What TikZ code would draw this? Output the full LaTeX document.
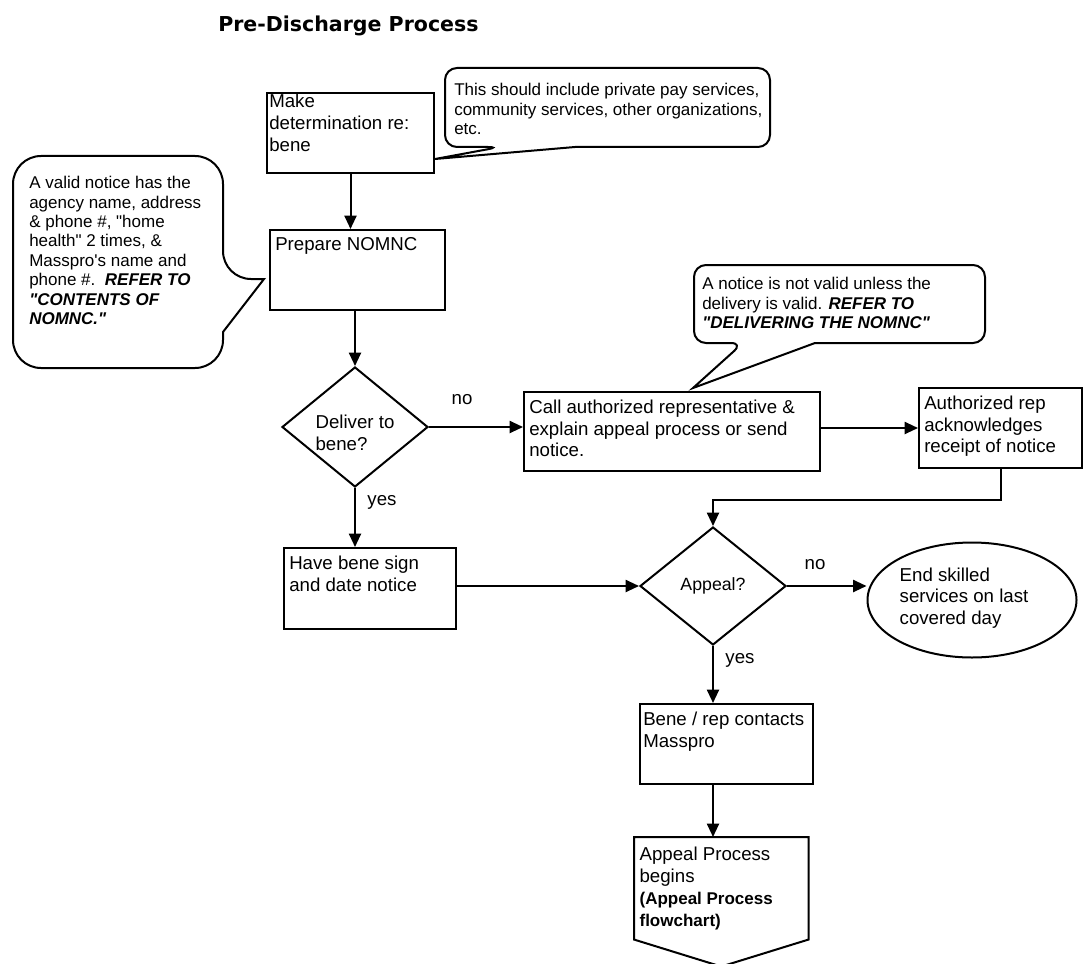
\documentclass[tikz,border=0pt]{standalone}
\usepackage{fontspec}
\setmainfont{Liberation Sans}[Ligatures=TeXOff]
\newfontfamily\titlefont{DejaVu Sans}
\usetikzlibrary{shapes.geometric,arrows.meta}

\newcommand{\boxfont}{\fontsize{14pt}{16.3pt}\selectfont}
\newcommand{\notefont}{\fontsize{12.75pt}{14.6pt}\selectfont}

\tikzset{
  flowbox/.style 2 args={draw, line width=1.5pt, anchor=north west, inner sep=0pt,
    minimum width=#1*0.75pt, minimum height=#2*0.75pt},
  boxtext/.style={anchor=north west, align=left, inner xsep=4.5pt, inner ysep=6.5pt, font=\boxfont},
  decision/.style 2 args={draw, diamond, line width=1.5pt, inner sep=0pt,
    minimum width=#1*0.75pt, minimum height=#2*0.75pt},
  shapetext/.style={align=left, inner sep=0pt, font=\boxfont},
  note/.style={line width=1.5pt},
  notetext/.style={anchor=north west, inner sep=0pt, align=left, font=\notefont},
  branch/.style={font=\boxfont, inner sep=0pt},
  flowarrow/.style={line width=1.5pt, -{Triangle[length=10pt, width=9pt]}}
}

\begin{document}
\begin{tikzpicture}[x=0.75pt, y=-0.75pt]
\useasboundingbox (0,0) rectangle (1084,963);
\node[anchor=base west, inner sep=0pt, font={\titlefont\bfseries\fontsize{15.4pt}{18pt}\selectfont}] (title) at (218,32) {Pre-Discharge Process};

% process boxes
\node[flowbox={167}{80}] (make) at (266,92) {};
\node[boxtext, inner xsep=2.25pt, inner ysep=1.5pt] (make-t) at (make.north west) {Make\\determination re:\\bene};
\node[flowbox={175}{80}] (prep) at (269,229) {};
\node[boxtext] (prep-t) at (prep.north west) {Prepare NOMNC};
\node[flowbox={172}{81}] (have) at (283,547) {};
\node[boxtext] (have-t) at (have.north west) {Have bene sign\\and date notice};
\node[flowbox={296}{79}] (call) at (523,391) {};
\node[boxtext] (call-t) at (call.north west) {Call authorized representative \&\\explain appeal process or send\\notice.};
\node[flowbox={163}{80}] (auth) at (918,387) {};
\node[boxtext] (auth-t) at (auth.north west) {Authorized rep\\acknowledges\\receipt of notice};
\node[flowbox={173}{80}] (bene) at (639,703) {};
\node[boxtext, inner xsep=3pt] (bene-t) at (bene.north west) {Bene / rep contacts\\Masspro};
\node[anchor=north west, inner sep=0pt, minimum width=174*0.75pt, minimum height=102*0.75pt] (off) at (634,837) {};
\draw[line width=1.5pt] (off.north west) -- (off.north east) -- (off.south east) -- ([yshift=-20.25pt]off.south) -- (off.south west) -- cycle;
\node[boxtext, inner xsep=4pt, inner ysep=7.5pt] (off-t) at (off.north west) {Appeal Process\\begins\\{\notefont\bfseries (Appeal Process}\\{\notefont\bfseries flowchart)}};

% decisions
\node[decision={146}{120}] (deliver) at (355,427) {};
\node[shapetext] (deliver-t) at (355,433) {Deliver to\\bene?};
\node[decision={146}{118}] (appeal) at (713,586) {};
\node[shapetext, font=\fontsize{13.3pt}{16pt}\selectfont] (appeal-t) at (appeal) {Appeal?};
\node[draw, ellipse, line width=1.5pt, minimum width=209*0.75pt, minimum height=115*0.75pt, inner sep=0pt] (end) at (972,600) {};
\node[shapetext] (end-t) at (964,598) {End skilled\\services on last\\covered day};

% callouts
\draw[note] (575,147) [rounded corners=9pt] -- (770,147) -- (770,68) -- (445,68) -- (445,147) -- (500,147) [sharp corners] -- (435,159) -- cycle;
\node[notetext] (svc-t) at (454,83) {This should include private pay services,\\community services, other organizations,\\etc.};
\draw[note] (223,332) [rounded corners=21pt] -- (223,368) -- (13,368) -- (13,156) -- (223,156) -- (223,279) [sharp corners] -- (264,279) -- cycle;
\node[notetext] (valid-t) at (29,176) {A valid notice has the\\agency name, address\\\& phone \#, "home\\health" 2 times, \&\\Masspro's name and\\phone \#.\ \ {\bfseries\itshape REFER TO}\\{\bfseries\itshape "CONTENTS OF}\\{\bfseries\itshape NOMNC."}};
\draw[note] (815,343) [rounded corners=9pt] -- (985,343) -- (985,265) -- (694,265) -- (694,343) -- (743,343) [sharp corners] -- (693,388) -- cycle;
\node[notetext] (deliv-t) at (702,277) {A notice is not valid unless the\\delivery is valid. {\bfseries\itshape REFER TO}\\{\bfseries\itshape "DELIVERING THE NOMNC"}};

% branch labels
\node[branch] (no-1) at (462,400) {no};
\node[branch] (yes-1) at (382,502) {yes};
\node[branch] (no-2) at (815,565) {no};
\node[branch] (yes-2) at (740,660) {yes};

% connectors
\draw[flowarrow] (make.south) -- (make.south |- prep.north);
\draw[flowarrow] (prep.south -| deliver) -- (deliver.north);
\draw[flowarrow] (deliver.east) -- (deliver.east -| call.west);
\draw[flowarrow] (deliver.south) -- (deliver.south |- have.north);
\draw[flowarrow] (auth.west -| call.east) -- (auth.west);
\draw[flowarrow] (auth.south) -- ++(0,31) -| (appeal.north);
\draw[flowarrow] (appeal.west -| have.east) -- (appeal.west);
\draw[flowarrow] (appeal.east) -- (appeal.east -| end.west);
\draw[flowarrow] (appeal.south) -- (appeal.south |- bene.north);
\draw[flowarrow] (bene.south -| appeal.south) -- (off.north -| appeal.south);
\end{tikzpicture}
\end{document}
